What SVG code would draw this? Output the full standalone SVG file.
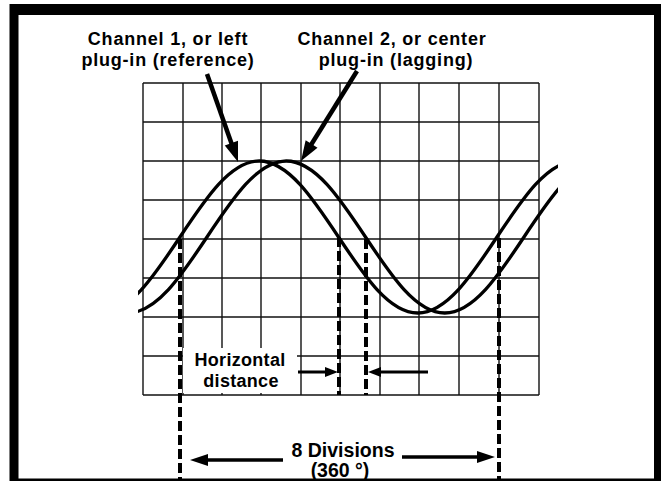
<svg xmlns="http://www.w3.org/2000/svg" width="661" height="481" viewBox="0 0 661 481">
  <style>
    .grid line { stroke: #111; stroke-width: 1.4; }
    .wave { fill: none; stroke: #000; stroke-width: 3.3; }
    .dash { stroke: #000; stroke-width: 4; stroke-dasharray: 10 4; fill: none; }
    .arrow { stroke: #000; fill: none; }
    .lbl { font-family: "Liberation Sans", Arial, Helvetica, sans-serif; font-weight: bold; fill: #000; text-anchor: middle; }
    .top { font-size: 18px; letter-spacing: 0.8px; }
  </style>
  <defs>
    <marker id="headBig" markerUnits="userSpaceOnUse" markerWidth="22" markerHeight="16" refX="10" refY="7" orient="auto" overflow="visible">
      <path d="M0,0 L20,7 L0,14 Z" fill="#000"/>
    </marker>
    <marker id="headMid" markerUnits="userSpaceOnUse" markerWidth="20" markerHeight="14" refX="8" refY="6" orient="auto" overflow="visible">
      <path d="M0,0 L18,6 L0,12 Z" fill="#000"/>
    </marker>
    <marker id="headSmall" markerUnits="userSpaceOnUse" markerWidth="15" markerHeight="12" refX="6" refY="5" orient="auto" overflow="visible">
      <path d="M0,0 L13,5 L0,10 Z" fill="#000"/>
    </marker>
    <clipPath id="screenClip">
      <rect x="138" y="60" width="420" height="300"/>
    </clipPath>
  </defs>

  <rect x="0" y="0" width="661" height="481" fill="#fff"/>

  <g id="grid" class="grid">
    <line x1="143" y1="83" x2="143" y2="395"/>
    <line x1="183" y1="83" x2="183" y2="395"/>
    <line x1="222" y1="83" x2="222" y2="395"/>
    <line x1="261" y1="83" x2="261" y2="395"/>
    <line x1="301" y1="83" x2="301" y2="395"/>
    <line x1="340" y1="83" x2="340" y2="395"/>
    <line x1="380" y1="83" x2="380" y2="395"/>
    <line x1="419" y1="83" x2="419" y2="395"/>
    <line x1="459" y1="83" x2="459" y2="395"/>
    <line x1="499" y1="83" x2="499" y2="395"/>
    <line x1="539" y1="83" x2="539" y2="395"/>
    <line x1="143" y1="83" x2="539" y2="83"/>
    <line x1="143" y1="122" x2="539" y2="122"/>
    <line x1="143" y1="161" x2="539" y2="161"/>
    <line x1="143" y1="200" x2="539" y2="200"/>
    <line x1="143" y1="239" x2="539" y2="239"/>
    <line x1="143" y1="278" x2="539" y2="278"/>
    <line x1="143" y1="317" x2="539" y2="317"/>
    <line x1="143" y1="356" x2="539" y2="356"/>
    <line x1="143" y1="395" x2="539" y2="395"/>
  </g>

  <g id="waves" clip-path="url(#screenClip)">
    <path id="ch1-wave" class="wave" d="M100.75,313 C129.43,313 154.16,275.93 180,237 C205.84,198.07 230.57,161 259.25,161 C287.93,161 312.66,198.07 338.5,237 C364.34,275.93 389.07,313 417.75,313 C446.43,313 471.16,275.93 497,237 C522.84,198.07 547.57,161 576.25,161"/>
    <path id="ch2-wave" class="wave" d="M127.75,313 C156.43,313 181.16,275.93 207,237 C232.84,198.07 257.57,161 286.25,161 C314.93,161 339.66,198.07 365.5,237 C391.34,275.93 416.07,313 444.75,313 C473.43,313 498.16,275.93 524,237 C549.84,198.07 574.57,161 603.25,161"/>
  </g>

  <g id="label-hdist">
    <rect x="183" y="348" width="114" height="45" fill="#fff"/>
    <text class="lbl" x="240" y="366" font-size="18" letter-spacing="0.3">Horizontal</text>
    <text class="lbl" x="241" y="386.5" font-size="18" letter-spacing="0.3">distance</text>
  </g>

  <g id="connectors">
    <line class="dash" x1="180" y1="239" x2="180" y2="481"/>
    <line class="dash" x1="339" y1="237" x2="339" y2="395"/>
    <line class="dash" x1="366" y1="239" x2="366" y2="395"/>
    <line class="dash" x1="499" y1="238" x2="499" y2="481"/>

    <line class="arrow" stroke-width="4.5" x1="207" y1="74" x2="234.7" y2="152.6" marker-end="url(#headBig)"/>
    <line class="arrow" stroke-width="4.5" x1="357" y1="71" x2="306.3" y2="152.5" marker-end="url(#headBig)"/>

    <line class="arrow" stroke-width="3" x1="298" y1="372" x2="331" y2="372" marker-end="url(#headSmall)"/>
    <line class="arrow" stroke-width="3" x1="428" y1="372" x2="375" y2="372" marker-end="url(#headSmall)"/>

    <line class="arrow" stroke-width="3.5" x1="283" y1="460" x2="200" y2="460" marker-end="url(#headMid)"/>
    <line class="arrow" stroke-width="3.5" x1="402" y1="457" x2="485" y2="457" marker-end="url(#headMid)"/>
  </g>

  <g id="label-ch1">
    <text class="lbl top" x="168" y="45">Channel 1, or left</text>
    <text class="lbl top" x="168" y="65.5">plug-in (reference)</text>
  </g>

  <g id="label-ch2">
    <text class="lbl top" x="392" y="45">Channel 2, or center</text>
    <text class="lbl top" x="396" y="65.5">plug-in (lagging)</text>
  </g>

  <g id="label-8div">
    <text class="lbl" x="343" y="457" font-size="19.5">8 Divisions</text>
    <text class="lbl" x="340" y="477" font-size="19.5">(360 °)</text>
  </g>

  <g id="frame">
    <path fill="#000" fill-rule="evenodd" d="M9.5,4 H661 V481 H9.5 Z M18.5,15 V478.5 H654 V15 Z"/>
  </g>
</svg>
